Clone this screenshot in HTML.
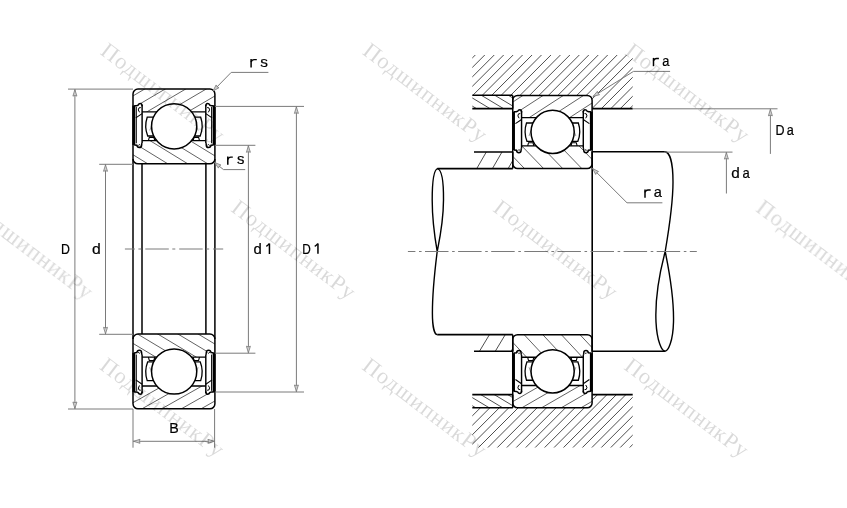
<!DOCTYPE html>
<html><head><meta charset="utf-8"><style>
html,body{margin:0;padding:0;background:#fff;}
svg{display:block;font-family:"Liberation Sans",sans-serif;}
</style></head><body>
<svg width="847" height="508" viewBox="0 0 847 508">
<defs><clipPath id="c1"><path d="M133 93.95A5 5 0 0 1 138 88.95L209.9 88.95A5 5 0 0 1 214.9 93.95L214.9 104.35L205.9 104.35L205.9 111.8L142 111.8L142 104.35L133 104.35ZM151.55 126.3a22.6 22.6 0 1 0 45.2 0a22.6 22.6 0 1 0 -45.2 0Z" clip-rule="evenodd"/></clipPath><clipPath id="c2"><path d="M142 140.7L205.9 140.7L205.9 146.55L214.9 146.55L214.9 158.85A5 5 0 0 1 209.9 163.85L138 163.85A5 5 0 0 1 133 158.85L133 146.55L142 146.55ZM151.55 126.3a22.6 22.6 0 1 0 45.2 0a22.6 22.6 0 1 0 -45.2 0Z" clip-rule="evenodd"/></clipPath><clipPath id="c3"><path d="M133 403.86A5 5 0 0 0 138 408.86L209.9 408.86A5 5 0 0 0 214.9 403.86L214.9 393.46L205.9 393.46L205.9 386.01L142 386.01L142 393.46L133 393.46ZM151.55 371.51a22.6 22.6 0 1 0 45.2 0a22.6 22.6 0 1 0 -45.2 0Z" clip-rule="evenodd"/></clipPath><clipPath id="c4"><path d="M142 357.11L205.9 357.11L205.9 351.26L214.9 351.26L214.9 338.96A5 5 0 0 0 209.9 333.96L138 333.96A5 5 0 0 0 133 338.96L133 351.26L142 351.26ZM151.55 371.51a22.6 22.6 0 1 0 45.2 0a22.6 22.6 0 1 0 -45.2 0Z" clip-rule="evenodd"/></clipPath><clipPath id="c5"><path d="M472.3 55L632.7 55L632.7 108.6L592.2 108.6L592.2 95.3L472.3 95.3Z" clip-rule="evenodd"/></clipPath><clipPath id="c6"><path d="M472.3 95.3L512.8 95.3L512.8 108.6L472.3 108.6Z" clip-rule="evenodd"/></clipPath><clipPath id="c7"><path d="M474 152L512.8 152L512.8 168.5L474 168.5Z" clip-rule="evenodd"/></clipPath><clipPath id="c8"><path d="M474 334.6L512.8 334.6L512.8 351.2L474 351.2Z" clip-rule="evenodd"/></clipPath><clipPath id="c9"><path d="M472.3 407.7L592.2 407.7L592.2 394.6L632.7 394.6L632.7 447.6L472.3 447.6Z" clip-rule="evenodd"/></clipPath><clipPath id="c10"><path d="M472.3 394.6L512.8 394.6L512.8 407.7L472.3 407.7Z" clip-rule="evenodd"/></clipPath><clipPath id="c11"><path d="M512.74 100.28A4.84 4.88 0 0 1 517.59 95.39L587.26 95.39A4.84 4.88 0 0 1 592.1 100.28L592.1 110.44L583.38 110.44L583.38 117.71L521.46 117.71L521.46 110.44L512.74 110.44ZM531.01 131.88a21.6 21.6 0 1 0 43.2 0a21.6 21.6 0 1 0 -43.2 0Z" clip-rule="evenodd"/></clipPath><clipPath id="c12"><path d="M521.46 145.95L583.38 145.95L583.38 151.67L592.1 151.67L592.1 163.68A4.84 4.88 0 0 1 587.26 168.57L517.59 168.57A4.84 4.88 0 0 1 512.74 163.68L512.74 151.67L521.46 151.67ZM531.01 131.88a21.6 21.6 0 1 0 43.2 0a21.6 21.6 0 1 0 -43.2 0Z" clip-rule="evenodd"/></clipPath><clipPath id="c13"><path d="M512.74 402.94A4.84 4.88 0 0 0 517.59 407.83L587.26 407.83A4.84 4.88 0 0 0 592.1 402.94L592.1 392.78L583.38 392.78L583.38 385.51L521.46 385.51L521.46 392.78L512.74 392.78ZM531.01 371.34a21.6 21.6 0 1 0 43.2 0a21.6 21.6 0 1 0 -43.2 0Z" clip-rule="evenodd"/></clipPath><clipPath id="c14"><path d="M521.46 357.27L583.38 357.27L583.38 351.55L592.1 351.55L592.1 339.54A4.84 4.88 0 0 0 587.26 334.65L517.59 334.65A4.84 4.88 0 0 0 512.74 339.54L512.74 351.55L521.46 351.55ZM531.01 371.34a21.6 21.6 0 1 0 43.2 0a21.6 21.6 0 1 0 -43.2 0Z" clip-rule="evenodd"/></clipPath><filter id="gs" x="0" y="0" width="847" height="508" filterUnits="userSpaceOnUse" color-interpolation-filters="sRGB"><feColorMatrix type="saturate" values="0"/></filter></defs>
<g filter="url(#gs)">
<rect width="847" height="508" fill="#fff"/>
<path clip-path="url(#c1)" d="M-11.11 156.64L290.12 -20.8M-5.83 165.61L295.4 -11.83M-0.55 174.57L300.68 -2.87M4.73 183.53L305.96 6.1M10.01 192.5L311.24 15.06M15.29 201.46L316.52 24.03M20.58 210.43L321.8 32.99M25.86 219.39L327.08 41.96M31.14 228.36L332.36 50.92M36.42 237.32L337.64 59.89M41.7 246.29L342.92 68.85M46.98 255.25L348.2 77.82M52.26 264.22L353.49 86.78M57.54 273.18L358.77 95.75" stroke="#3a3a3a" stroke-width="0.8" fill="none"/>
<path clip-path="url(#c2)" d="M61.17 -24.1L359.25 158.57M55.71 -15.19L353.79 167.48M50.25 -6.28L348.33 176.39M44.79 2.63L342.87 185.3M39.33 11.54L337.41 194.21M33.87 20.45L331.95 203.12M28.41 29.36L326.49 212.03M22.95 38.27L321.03 220.94M17.49 47.18L315.57 229.85M12.02 56.09L310.11 238.76M6.56 65L304.65 247.67M1.1 73.91L299.19 256.58M-4.36 82.82L293.73 265.49M-9.82 91.73L288.27 274.4M-15.28 100.64L282.81 283.31" stroke="#3a3a3a" stroke-width="0.8" fill="none"/>
<path d="M133 93.95A5 5 0 0 1 138 88.95L209.9 88.95A5 5 0 0 1 214.9 93.95L214.9 158.85A5 5 0 0 1 209.9 163.85L138 163.85A5 5 0 0 1 133 158.85Z" stroke="#000" stroke-width="1.5" fill="none"/>
<path d="M154 117.2L147.2 117.2Q144 126.55 147.7 136L154 136" stroke="#000" stroke-width="1.3" fill="none"/>
<path d="M148.4 140.7L149.3 137.35L153.8 137.35L154.8 140.7" stroke="#000" stroke-width="1.1" fill="none"/>
<path d="M149.8 130.45L152.8 122.25" stroke="#555" stroke-width="0.6" fill="none"/>
<path d="M193.9 117.2L200.7 117.2Q203.9 126.55 200.2 136L193.9 136" stroke="#000" stroke-width="1.3" fill="none"/>
<path d="M199.5 140.7L198.6 137.35L194.1 137.35L193.1 140.7" stroke="#000" stroke-width="1.1" fill="none"/>
<path d="M198.1 130.45L195.1 122.25" stroke="#555" stroke-width="0.6" fill="none"/>
<path d="M142 111.8L205.9 111.8M142 140.7L205.9 140.7" stroke="#000" stroke-width="1.3" fill="none"/>
<path d="M133.8 105.55L133.8 144.95" stroke="#000" stroke-width="2.9" fill="none"/>
<path d="M136.3 106.95L136.3 143.25" stroke="#000" stroke-width="1.0" fill="none"/>
<path d="M142.1 104.75L142.1 143.25" stroke="#000" stroke-width="1.45" fill="none"/>
<path d="M142.1 106.35Q142.1 103.55 140.3 103.55Q138.8 103.55 138.1 105.15L136.6 105.75L134.2 105.8" stroke="#000" stroke-width="1.5" fill="none"/>
<path d="M140.8 107.55Q138.4 106.95 138.3 109.95L139.6 112.35" stroke="#000" stroke-width="1.0" fill="none"/>
<path d="M142.1 113.6L135.8 117.9" stroke="#000" stroke-width="1.1" fill="none"/>
<path d="M134.2 144.95L136.8 145.15Q137.2 147.55 139.3 147.55Q141.5 147.55 141.6 145.35Q141.7 143.55 142.1 143.15" stroke="#000" stroke-width="1.5" fill="none"/>
<path d="M138 145.75Q139.2 143.55 140.4 145.15" stroke="#000" stroke-width="0.9" fill="none"/>
<path d="M214.1 105.55L214.1 144.95" stroke="#000" stroke-width="2.9" fill="none"/>
<path d="M211.6 106.95L211.6 143.25" stroke="#000" stroke-width="1.0" fill="none"/>
<path d="M205.8 104.75L205.8 143.25" stroke="#000" stroke-width="1.45" fill="none"/>
<path d="M205.8 106.35Q205.8 103.55 207.6 103.55Q209.1 103.55 209.8 105.15L211.3 105.75L213.7 105.8" stroke="#000" stroke-width="1.5" fill="none"/>
<path d="M207.1 107.55Q209.5 106.95 209.6 109.95L208.3 112.35" stroke="#000" stroke-width="1.0" fill="none"/>
<path d="M205.8 113.6L212.1 117.9" stroke="#000" stroke-width="1.1" fill="none"/>
<path d="M213.7 144.95L211.1 145.15Q210.7 147.55 208.6 147.55Q206.4 147.55 206.3 145.35Q206.2 143.55 205.8 143.15" stroke="#000" stroke-width="1.5" fill="none"/>
<path d="M209.9 145.75Q208.7 143.55 207.5 145.15" stroke="#000" stroke-width="0.9" fill="none"/>
<circle cx="174.15" cy="126.3" r="22.6" fill="#fff" stroke="#000" stroke-width="1.5"/>
<path clip-path="url(#c3)" d="M-12.91 396.12L291.37 223.97M-8.13 404.57L296.15 232.41M-3.35 413.01L300.92 240.86M1.42 421.45L305.7 249.3M6.2 429.89L310.48 257.74M10.98 438.34L315.25 266.19M15.76 446.78L320.03 274.63M20.53 455.22L324.81 283.07M25.31 463.67L329.59 291.52M30.09 472.11L334.36 299.96M34.86 480.55L339.14 308.4M39.64 489L343.92 316.84M44.42 497.44L348.69 325.29M49.19 505.88L353.47 333.73M53.97 514.33L358.25 342.17" stroke="#3a3a3a" stroke-width="0.8" fill="none"/>
<path clip-path="url(#c4)" d="M63.12 216.46L362.79 396.52M57.77 225.38L357.43 405.44M52.41 234.3L352.07 414.36M47.05 243.22L346.71 423.27M41.69 252.13L341.36 432.19M36.33 261.05L336 441.11M30.97 269.97L330.64 450.03M25.62 278.89L325.28 458.95M20.26 287.81L319.92 467.86M14.9 296.72L314.56 476.78M9.54 305.64L309.21 485.7M4.18 314.56L303.85 494.62M-1.18 323.48L298.49 503.53M-6.53 332.39L293.13 512.45M-11.89 341.31L287.77 521.37" stroke="#3a3a3a" stroke-width="0.8" fill="none"/>
<path d="M133 403.86A5 5 0 0 0 138 408.86L209.9 408.86A5 5 0 0 0 214.9 403.86L214.9 338.96A5 5 0 0 0 209.9 333.96L138 333.96A5 5 0 0 0 133 338.96Z" stroke="#000" stroke-width="1.5" fill="none"/>
<path d="M154 380.61L147.2 380.61Q144 371.26 147.7 361.81L154 361.81" stroke="#000" stroke-width="1.3" fill="none"/>
<path d="M148.4 357.11L149.3 360.46L153.8 360.46L154.8 357.11" stroke="#000" stroke-width="1.1" fill="none"/>
<path d="M149.8 367.36L152.8 375.56" stroke="#555" stroke-width="0.6" fill="none"/>
<path d="M193.9 380.61L200.7 380.61Q203.9 371.26 200.2 361.81L193.9 361.81" stroke="#000" stroke-width="1.3" fill="none"/>
<path d="M199.5 357.11L198.6 360.46L194.1 360.46L193.1 357.11" stroke="#000" stroke-width="1.1" fill="none"/>
<path d="M198.1 367.36L195.1 375.56" stroke="#555" stroke-width="0.6" fill="none"/>
<path d="M142 386.01L205.9 386.01M142 357.11L205.9 357.11" stroke="#000" stroke-width="1.3" fill="none"/>
<path d="M133.8 392.26L133.8 352.86" stroke="#000" stroke-width="2.9" fill="none"/>
<path d="M136.3 390.86L136.3 354.56" stroke="#000" stroke-width="1.0" fill="none"/>
<path d="M142.1 393.06L142.1 354.56" stroke="#000" stroke-width="1.45" fill="none"/>
<path d="M142.1 391.46Q142.1 394.26 140.3 394.26Q138.8 394.26 138.1 392.66L136.6 392.06L134.2 392.01" stroke="#000" stroke-width="1.5" fill="none"/>
<path d="M140.8 390.26Q138.4 390.86 138.3 387.86L139.6 385.46" stroke="#000" stroke-width="1.0" fill="none"/>
<path d="M142.1 384.21L135.8 379.91" stroke="#000" stroke-width="1.1" fill="none"/>
<path d="M134.2 352.86L136.8 352.66Q137.2 350.26 139.3 350.26Q141.5 350.26 141.6 352.46Q141.7 354.26 142.1 354.66" stroke="#000" stroke-width="1.5" fill="none"/>
<path d="M138 352.06Q139.2 354.26 140.4 352.66" stroke="#000" stroke-width="0.9" fill="none"/>
<path d="M214.1 392.26L214.1 352.86" stroke="#000" stroke-width="2.9" fill="none"/>
<path d="M211.6 390.86L211.6 354.56" stroke="#000" stroke-width="1.0" fill="none"/>
<path d="M205.8 393.06L205.8 354.56" stroke="#000" stroke-width="1.45" fill="none"/>
<path d="M205.8 391.46Q205.8 394.26 207.6 394.26Q209.1 394.26 209.8 392.66L211.3 392.06L213.7 392.01" stroke="#000" stroke-width="1.5" fill="none"/>
<path d="M207.1 390.26Q209.5 390.86 209.6 387.86L208.3 385.46" stroke="#000" stroke-width="1.0" fill="none"/>
<path d="M205.8 384.21L212.1 379.91" stroke="#000" stroke-width="1.1" fill="none"/>
<path d="M213.7 352.86L211.1 352.66Q210.7 350.26 208.6 350.26Q206.4 350.26 206.3 352.46Q206.2 354.26 205.8 354.66" stroke="#000" stroke-width="1.5" fill="none"/>
<path d="M209.9 352.06Q208.7 354.26 207.5 352.66" stroke="#000" stroke-width="0.9" fill="none"/>
<circle cx="174.15" cy="371.51" r="22.6" fill="#fff" stroke="#000" stroke-width="1.5"/>
<line x1="133" y1="159" x2="133" y2="339" stroke="#000" stroke-width="1.5"/>
<line x1="214.9" y1="159" x2="214.9" y2="339" stroke="#000" stroke-width="1.5"/>
<line x1="142" y1="163.86" x2="142" y2="333.94" stroke="#000" stroke-width="1.5"/>
<line x1="205.9" y1="163.86" x2="205.9" y2="333.94" stroke="#000" stroke-width="1.5"/>
<line x1="124.9" y1="249" x2="223.2" y2="249" stroke="#7a7a7a" stroke-width="1" stroke-dasharray="23.5 3.5 3 3.9" stroke-dashoffset="13.5"/>
<line x1="68" y1="89.1" x2="133" y2="89.1" stroke="#7a7a7a" stroke-width="1"/>
<line x1="68" y1="409" x2="133" y2="409" stroke="#7a7a7a" stroke-width="1"/>
<line x1="74.9" y1="89.1" x2="74.9" y2="409" stroke="#7a7a7a" stroke-width="1"/>
<path d="M76.9 96.1L74.9 89.6L72.9 96.1Q74.9 94.9 76.9 96.1Z" stroke="#7a7a7a" stroke-width="0.8" fill="#cfcfcf"/>
<path d="M72.9 402L74.9 408.5L76.9 402Q74.9 403.2 72.9 402Z" stroke="#7a7a7a" stroke-width="0.8" fill="#cfcfcf"/>
<line x1="99.2" y1="164.3" x2="133" y2="164.3" stroke="#7a7a7a" stroke-width="1"/>
<line x1="99.2" y1="334.3" x2="133" y2="334.3" stroke="#7a7a7a" stroke-width="1"/>
<line x1="105.5" y1="164.3" x2="105.5" y2="334.3" stroke="#7a7a7a" stroke-width="1"/>
<path d="M107.5 171.3L105.5 164.8L103.5 171.3Q105.5 170.1 107.5 171.3Z" stroke="#7a7a7a" stroke-width="0.8" fill="#cfcfcf"/>
<path d="M103.5 327.3L105.5 333.8L107.5 327.3Q105.5 328.5 103.5 327.3Z" stroke="#7a7a7a" stroke-width="0.8" fill="#cfcfcf"/>
<line x1="214.9" y1="145.3" x2="255.4" y2="145.3" stroke="#7a7a7a" stroke-width="1"/>
<line x1="214.9" y1="353.2" x2="255.4" y2="353.2" stroke="#7a7a7a" stroke-width="1"/>
<line x1="248.4" y1="145.3" x2="248.4" y2="353.2" stroke="#7a7a7a" stroke-width="1"/>
<path d="M250.4 152.3L248.4 145.8L246.4 152.3Q248.4 151.1 250.4 152.3Z" stroke="#7a7a7a" stroke-width="0.8" fill="#cfcfcf"/>
<path d="M246.4 346.2L248.4 352.7L250.4 346.2Q248.4 347.4 246.4 346.2Z" stroke="#7a7a7a" stroke-width="0.8" fill="#cfcfcf"/>
<line x1="214.9" y1="106.4" x2="304" y2="106.4" stroke="#7a7a7a" stroke-width="1"/>
<line x1="214.9" y1="392" x2="304" y2="392" stroke="#7a7a7a" stroke-width="1"/>
<line x1="296.4" y1="106.4" x2="296.4" y2="392" stroke="#7a7a7a" stroke-width="1"/>
<path d="M298.4 113.4L296.4 106.9L294.4 113.4Q296.4 112.2 298.4 113.4Z" stroke="#7a7a7a" stroke-width="0.8" fill="#cfcfcf"/>
<path d="M294.4 385L296.4 391.5L298.4 385Q296.4 386.2 294.4 385Z" stroke="#7a7a7a" stroke-width="0.8" fill="#cfcfcf"/>
<line x1="133" y1="409" x2="133" y2="447.7" stroke="#7a7a7a" stroke-width="1"/>
<line x1="214.6" y1="409" x2="214.6" y2="447.7" stroke="#7a7a7a" stroke-width="1"/>
<line x1="133" y1="441.3" x2="214.9" y2="441.3" stroke="#7a7a7a" stroke-width="1"/>
<path d="M140 439.3L133.5 441.3L140 443.3Q138.8 441.3 140 439.3Z" stroke="#7a7a7a" stroke-width="0.8" fill="#cfcfcf"/>
<path d="M207.9 443.3L214.4 441.3L207.9 439.3Q209.1 441.3 207.9 443.3Z" stroke="#7a7a7a" stroke-width="0.8" fill="#cfcfcf"/>
<path d="M213.0 91.0L231.2 72.4L268.4 72.4" stroke="#7a7a7a" stroke-width="1" fill="none"/>
<path d="M216.12 84.96L213 91L218.98 87.75Q216.71 87.21 216.12 84.96Z" stroke="#7a7a7a" stroke-width="0.8" fill="#cfcfcf"/>
<path d="M214.6 162.5L223.5 169.6L245.2 169.6" stroke="#7a7a7a" stroke-width="1" fill="none"/>
<path d="M220.93 164.99L214.6 162.5L218.43 168.12Q218.74 165.81 220.93 164.99Z" stroke="#7a7a7a" stroke-width="0.8" fill="#cfcfcf"/>
<text transform="translate(60.99 253.9) scale(0.865 1)" font-family="Liberation Sans" font-size="14.24" fill="#000" stroke="#000" stroke-width="0.22">D</text>
<text transform="translate(92.04 254.16) scale(1.115 1)" font-family="Liberation Sans" font-size="14.16" fill="#000" stroke="#000" stroke-width="0.19">d</text>
<text transform="translate(253.57 253.76) scale(1.052 1)" font-family="Liberation Sans" font-size="14.16" fill="#000" stroke="#000" stroke-width="0.19">d</text>
<path d="M269.45 243.5L269.45 254" stroke="#000" stroke-width="1.5" fill="none"/>
<path d="M266.3 246.4Q267.8 245.6 269.3 243.6" stroke="#000" stroke-width="1.4" fill="none"/>
<text transform="translate(302.13 253.7) scale(0.838 1)" font-family="Liberation Sans" font-size="14.10" fill="#000" stroke="#000" stroke-width="0.22">D</text>
<path d="M317.95 243.5L317.95 253.8" stroke="#000" stroke-width="1.5" fill="none"/>
<path d="M314.7 246.4Q316.3 245.6 317.8 243.6" stroke="#000" stroke-width="1.4" fill="none"/>
<text transform="translate(169.23 432.7) scale(0.963 1)" font-family="Liberation Sans" font-size="14.83" fill="#000" stroke="#000" stroke-width="0.20">B</text>
<path d="M251.1 59L251.1 67.5" stroke="#000" stroke-width="1.5" fill="none"/>
<path d="M251.1 62Q251.8 59.6 254.1 59.6L256.8 59.6" stroke="#000" stroke-width="1.45" fill="none"/>
<text transform="translate(260.27 67.25) scale(0.988 1)" font-family="Liberation Sans" font-size="15.56" fill="#000" stroke="#000" stroke-width="0.20">s</text>
<path d="M227.8 156.5L227.8 164.7" stroke="#000" stroke-width="1.5" fill="none"/>
<path d="M227.8 159.5Q228.5 157.1 230.8 157.1L232.8 157.1" stroke="#000" stroke-width="1.45" fill="none"/>
<text transform="translate(236.89 164.45) scale(0.993 1)" font-family="Liberation Sans" font-size="15.01" fill="#000" stroke="#000" stroke-width="0.20">s</text>
<path clip-path="url(#c5)" d="M318.67 183.26L655.26 -153.33M323.4 187.98L659.98 -148.6M328.13 192.71L664.71 -143.87M332.86 197.44L669.44 -139.14M337.59 202.17L674.17 -134.41M342.32 206.9L678.9 -129.68M347.04 211.63L683.63 -124.96M351.77 216.36L688.36 -120.23M356.5 221.08L693.08 -115.5M361.23 225.81L697.81 -110.77M365.96 230.54L702.54 -106.04M370.69 235.27L707.27 -101.31M375.42 240L712 -96.58M380.14 244.73L716.73 -91.86M384.87 249.45L721.45 -87.13M389.6 254.18L726.18 -82.4M394.33 258.91L730.91 -77.67M399.06 263.64L735.64 -72.94M403.79 268.37L740.37 -68.21M408.51 273.1L745.1 -63.49M413.24 277.83L749.83 -58.76M417.97 282.55L754.55 -54.03M422.7 287.28L759.28 -49.3M427.43 292.01L764.01 -44.57M432.16 296.74L768.74 -39.84M436.89 301.47L773.47 -35.11M441.61 306.2L778.2 -30.39M446.34 310.93L782.93 -25.66M451.07 315.65L787.65 -20.93" stroke="#3a3a3a" stroke-width="0.9" fill="none"/>
<path clip-path="url(#c6)" d="M444.25 40.56L569.4 115.76M440.67 46.52L565.82 121.72M437.09 52.48L562.24 127.67M433.51 58.44L558.66 133.63M429.93 64.39L555.08 139.59M426.35 70.35L551.5 145.55M422.77 76.31L547.92 151.5M419.19 82.27L544.34 157.46M415.61 88.22L540.76 163.42" stroke="#3a3a3a" stroke-width="0.9" fill="none"/>
<path clip-path="url(#c7)" d="M410.84 201.11L486.84 69.48M422.62 207.91L498.62 76.28M434.39 214.71L510.39 83.07M446.17 221.51L522.17 89.87M457.94 228.31L533.94 96.67M469.72 235.1L545.72 103.47M481.49 241.9L557.49 110.27M493.27 248.7L569.27 117.07" stroke="#3a3a3a" stroke-width="0.9" fill="none"/>
<path clip-path="url(#c8)" d="M412.08 384.51L491.4 252.51M423.69 391.49L503.01 259.48M435.3 398.46L514.62 266.46M446.91 405.44L526.23 273.43M458.52 412.41L537.84 280.41M470.13 419.39L549.44 287.38M481.74 426.36L561.05 294.36M493.35 433.34L572.66 301.34" stroke="#3a3a3a" stroke-width="0.9" fill="none"/>
<path clip-path="url(#c9)" d="M325.74 524.66L656.66 193.74M330.46 529.39L661.39 198.46M335.19 534.11L666.11 203.19M339.91 538.84L670.84 207.91M344.64 543.56L675.56 212.64M349.36 548.29L680.29 217.36M354.09 553.01L685.01 222.09M358.81 557.74L689.74 226.81M363.54 562.46L694.46 231.54M368.26 567.19L699.19 236.26M372.99 571.91L703.91 240.99M377.71 576.64L708.64 245.71M382.44 581.36L713.36 250.44M387.16 586.09L718.09 255.16M391.89 590.81L722.81 259.89M396.61 595.54L727.54 264.61M401.34 600.26L732.26 269.34M406.06 604.99L736.99 274.06M410.79 609.71L741.71 278.79M415.51 614.44L746.44 283.51M420.24 619.16L751.16 288.24M424.96 623.89L755.89 292.96M429.69 628.61L760.61 297.69M434.41 633.34L765.34 302.41M439.14 638.06L770.06 307.14M443.86 642.79L774.79 311.86M448.59 647.51L779.51 316.59" stroke="#3a3a3a" stroke-width="0.9" fill="none"/>
<path clip-path="url(#c10)" d="M443.96 340.05L569.1 415.25M440.38 346.01L565.52 421.2M436.8 351.97L561.95 427.16M433.22 357.92L558.37 433.12M429.64 363.88L554.79 439.08M426.06 369.84L551.21 445.03M422.48 375.79L547.63 450.99M418.9 381.75L544.05 456.95M415.32 387.71L540.47 462.9" stroke="#3a3a3a" stroke-width="0.9" fill="none"/>
<line x1="472.3" y1="95.3" x2="512.8" y2="95.3" stroke="#000" stroke-width="1.6"/>
<line x1="472.3" y1="108.6" x2="512.8" y2="108.6" stroke="#000" stroke-width="1.6"/>
<line x1="592.2" y1="108.6" x2="632.7" y2="108.6" stroke="#000" stroke-width="1.6"/>
<line x1="474" y1="152" x2="512.8" y2="152" stroke="#000" stroke-width="1.6"/>
<line x1="474" y1="351.2" x2="512.8" y2="351.2" stroke="#000" stroke-width="1.6"/>
<line x1="472.3" y1="394.6" x2="512.8" y2="394.6" stroke="#000" stroke-width="1.6"/>
<line x1="592.2" y1="394.6" x2="632.7" y2="394.6" stroke="#000" stroke-width="1.6"/>
<line x1="472.3" y1="407.7" x2="512.8" y2="407.7" stroke="#000" stroke-width="1.6"/>
<line x1="512.74" y1="95.39" x2="512.74" y2="108.6" stroke="#000" stroke-width="1.5"/>
<line x1="512.74" y1="394.6" x2="512.74" y2="407.83" stroke="#000" stroke-width="1.5"/>
<line x1="512.74" y1="152" x2="512.74" y2="168.57" stroke="#000" stroke-width="1.5"/>
<line x1="512.74" y1="334.74" x2="512.74" y2="351.2" stroke="#000" stroke-width="1.5"/>
<path clip-path="url(#c11)" d="M371.98 167.24L658.03 -18.52M377.97 176.47L664.02 -9.29M383.96 185.7L670.01 -0.07M389.95 194.92L676.01 9.16M395.95 204.15L682 18.39M401.94 213.38L687.99 27.61M407.93 222.61L693.98 36.84M413.92 231.83L699.97 46.07M419.91 241.06L705.97 55.29M425.91 250.29L711.96 64.52M431.9 259.51L717.95 73.75M437.89 268.74L723.94 82.98M443.88 277.97L729.93 92.2M449.87 287.19L735.93 101.43" stroke="#3a3a3a" stroke-width="0.8" fill="none"/>
<path clip-path="url(#c12)" d="M490.19 -45.01L727.13 200.34M480.31 -35.46L717.24 209.89M470.43 -25.92L707.36 219.43M460.54 -16.37L697.48 228.98M450.66 -6.83L687.59 238.52M440.78 2.71L677.71 248.06M430.9 12.26L667.83 257.61M421.01 21.8L657.94 267.15M411.13 31.35L648.06 276.7M401.25 40.89L638.18 286.24M391.36 50.43L628.29 295.79M381.48 59.98L618.41 305.33" stroke="#3a3a3a" stroke-width="0.8" fill="none"/>
<path d="M512.74 100.28A4.84 4.88 0 0 1 517.59 95.39L587.26 95.39A4.84 4.88 0 0 1 592.1 100.28L592.1 163.68A4.84 4.88 0 0 1 587.26 168.57L517.59 168.57A4.84 4.88 0 0 1 512.74 163.68Z" stroke="#000" stroke-width="1.5" fill="none"/>
<path d="M533.09 122.99L526.5 122.99Q523.4 132.13 526.98 141.36L533.09 141.36" stroke="#000" stroke-width="1.3" fill="none"/>
<path d="M527.66 145.95L528.53 142.68L532.9 142.68L533.86 145.95" stroke="#000" stroke-width="1.1" fill="none"/>
<path d="M529.02 135.94L531.93 127.92" stroke="#555" stroke-width="0.6" fill="none"/>
<path d="M571.75 122.99L578.34 122.99Q581.44 132.13 577.86 141.36L571.75 141.36" stroke="#000" stroke-width="1.3" fill="none"/>
<path d="M577.18 145.95L576.31 142.68L571.95 142.68L570.98 145.95" stroke="#000" stroke-width="1.1" fill="none"/>
<path d="M575.82 135.94L572.91 127.92" stroke="#555" stroke-width="0.6" fill="none"/>
<path d="M521.46 117.71L583.38 117.71M521.46 145.95L583.38 145.95" stroke="#000" stroke-width="1.3" fill="none"/>
<path d="M513.52 111.61L513.52 150.1" stroke="#000" stroke-width="2.9" fill="none"/>
<path d="M521.56 110.83L521.56 148.44" stroke="#000" stroke-width="1.45" fill="none"/>
<path d="M521.56 112.39Q521.56 109.65 519.81 109.65Q518.36 109.65 517.68 111.22L516.23 111.8L513.9 111.85" stroke="#000" stroke-width="1.5" fill="none"/>
<path d="M520.3 113.56Q517.97 112.98 517.88 115.91L519.14 118.25" stroke="#000" stroke-width="1.0" fill="none"/>
<path d="M521.56 119.47L515.45 123.67" stroke="#000" stroke-width="1.1" fill="none"/>
<path d="M513.9 150.1L516.42 150.3Q516.81 152.64 518.84 152.64Q520.98 152.64 521.07 150.49Q521.17 148.73 521.56 148.34" stroke="#000" stroke-width="1.5" fill="none"/>
<path d="M517.59 150.88Q518.75 148.73 519.91 150.3" stroke="#000" stroke-width="0.9" fill="none"/>
<path d="M591.33 111.61L591.33 150.1" stroke="#000" stroke-width="2.9" fill="none"/>
<path d="M583.28 110.83L583.28 148.44" stroke="#000" stroke-width="1.45" fill="none"/>
<path d="M583.28 112.39Q583.28 109.65 585.03 109.65Q586.48 109.65 587.16 111.22L588.61 111.8L590.94 111.85" stroke="#000" stroke-width="1.5" fill="none"/>
<path d="M584.54 113.56Q586.87 112.98 586.97 115.91L585.71 118.25" stroke="#000" stroke-width="1.0" fill="none"/>
<path d="M583.28 119.47L589.39 123.67" stroke="#000" stroke-width="1.1" fill="none"/>
<path d="M590.94 150.1L588.42 150.3Q588.03 152.64 586 152.64Q583.86 152.64 583.77 150.49Q583.67 148.73 583.28 148.34" stroke="#000" stroke-width="1.5" fill="none"/>
<path d="M587.26 150.88Q586.09 148.73 584.93 150.3" stroke="#000" stroke-width="0.9" fill="none"/>
<circle cx="552.61" cy="131.88" r="21.6" fill="#fff" stroke="#000" stroke-width="1.5"/>
<path clip-path="url(#c13)" d="M368.59 393.91L663.97 223.37M373.51 402.44L668.89 231.9M378.44 410.97L673.82 240.43M383.36 419.5L678.74 248.96M388.29 428.03L683.67 257.49M393.21 436.56L688.59 266.02M398.14 445.09L693.52 274.55M403.06 453.62L698.44 283.08M407.99 462.15L703.37 291.61M412.91 470.68L708.29 300.14M417.84 479.21L713.22 308.67M422.76 487.74L718.14 317.2M427.69 496.27L723.07 325.73M432.61 504.8L727.99 334.26M437.54 513.33L732.92 342.79" stroke="#3a3a3a" stroke-width="0.8" fill="none"/>
<path clip-path="url(#c14)" d="M488.99 197.21L721.61 446.65M479.04 206.48L711.66 455.93M469.1 215.76L701.71 465.21M459.15 225.04L691.76 474.49M449.2 234.32L681.81 483.76M439.25 243.59L671.86 493.04M429.3 252.87L661.91 502.32M419.35 262.15L651.97 511.6M409.4 271.43L642.02 520.87M399.45 280.7L632.07 530.15M389.51 289.98L622.12 539.43M379.56 299.26L612.17 548.71" stroke="#3a3a3a" stroke-width="0.8" fill="none"/>
<path d="M512.74 402.94A4.84 4.88 0 0 0 517.59 407.83L587.26 407.83A4.84 4.88 0 0 0 592.1 402.94L592.1 339.54A4.84 4.88 0 0 0 587.26 334.65L517.59 334.65A4.84 4.88 0 0 0 512.74 339.54Z" stroke="#000" stroke-width="1.5" fill="none"/>
<path d="M533.09 380.23L526.5 380.23Q523.4 371.09 526.98 361.86L533.09 361.86" stroke="#000" stroke-width="1.3" fill="none"/>
<path d="M527.66 357.27L528.53 360.54L532.9 360.54L533.86 357.27" stroke="#000" stroke-width="1.1" fill="none"/>
<path d="M529.02 367.28L531.93 375.3" stroke="#555" stroke-width="0.6" fill="none"/>
<path d="M571.75 380.23L578.34 380.23Q581.44 371.09 577.86 361.86L571.75 361.86" stroke="#000" stroke-width="1.3" fill="none"/>
<path d="M577.18 357.27L576.31 360.54L571.95 360.54L570.98 357.27" stroke="#000" stroke-width="1.1" fill="none"/>
<path d="M575.82 367.28L572.91 375.3" stroke="#555" stroke-width="0.6" fill="none"/>
<path d="M521.46 385.51L583.38 385.51M521.46 357.27L583.38 357.27" stroke="#000" stroke-width="1.3" fill="none"/>
<path d="M513.52 391.61L513.52 353.12" stroke="#000" stroke-width="2.9" fill="none"/>
<path d="M521.56 392.39L521.56 354.78" stroke="#000" stroke-width="1.45" fill="none"/>
<path d="M521.56 390.83Q521.56 393.57 519.81 393.57Q518.36 393.57 517.68 392L516.23 391.42L513.9 391.37" stroke="#000" stroke-width="1.5" fill="none"/>
<path d="M520.3 389.66Q517.97 390.24 517.88 387.31L519.14 384.97" stroke="#000" stroke-width="1.0" fill="none"/>
<path d="M521.56 383.75L515.45 379.55" stroke="#000" stroke-width="1.1" fill="none"/>
<path d="M513.9 353.12L516.42 352.92Q516.81 350.58 518.84 350.58Q520.98 350.58 521.07 352.73Q521.17 354.49 521.56 354.88" stroke="#000" stroke-width="1.5" fill="none"/>
<path d="M517.59 352.34Q518.75 354.49 519.91 352.92" stroke="#000" stroke-width="0.9" fill="none"/>
<path d="M591.33 391.61L591.33 353.12" stroke="#000" stroke-width="2.9" fill="none"/>
<path d="M583.28 392.39L583.28 354.78" stroke="#000" stroke-width="1.45" fill="none"/>
<path d="M583.28 390.83Q583.28 393.57 585.03 393.57Q586.48 393.57 587.16 392L588.61 391.42L590.94 391.37" stroke="#000" stroke-width="1.5" fill="none"/>
<path d="M584.54 389.66Q586.87 390.24 586.97 387.31L585.71 384.97" stroke="#000" stroke-width="1.0" fill="none"/>
<path d="M583.28 383.75L589.39 379.55" stroke="#000" stroke-width="1.1" fill="none"/>
<path d="M590.94 353.12L588.42 352.92Q588.03 350.58 586 350.58Q583.86 350.58 583.77 352.73Q583.67 354.49 583.28 354.88" stroke="#000" stroke-width="1.5" fill="none"/>
<path d="M587.26 352.34Q586.09 354.49 584.93 352.92" stroke="#000" stroke-width="0.9" fill="none"/>
<circle cx="552.61" cy="371.34" r="21.6" fill="#fff" stroke="#000" stroke-width="1.5"/>
<path d="M437.5 168.6C442.8 170 443.6 188 443.5 200C443.4 222 439.5 240 437.2 251.5C435.2 240 432.2 222 432.2 200C432.2 186 433.2 170 437.5 168.6Z" stroke="#000" stroke-width="1.4" fill="none"/>
<path d="M437.2 251.5C435.5 265 432.4 295 432.4 313C432.4 326 434.5 334.6 437.2 334.6" stroke="#000" stroke-width="1.4" fill="none"/>
<line x1="437.5" y1="168.6" x2="512.8" y2="168.6" stroke="#000" stroke-width="1.6"/>
<line x1="437.2" y1="334.6" x2="512.8" y2="334.6" stroke="#000" stroke-width="1.6"/>
<line x1="592.2" y1="151.8" x2="664.8" y2="151.8" stroke="#000" stroke-width="1.6"/>
<line x1="592.2" y1="351.2" x2="665" y2="351.2" stroke="#000" stroke-width="1.6"/>
<line x1="592.2" y1="151.8" x2="592.2" y2="351.2" stroke="#000" stroke-width="1.6"/>
<path d="M664.8 151.8C669 152 673 160 673.0 182C673 205 668 235 665.2 251.5" stroke="#000" stroke-width="1.4" fill="none"/>
<path d="M665.2 251.5C659 275 655 300 656 322C657 342 662 351.2 665.0 351.2C668 351.2 673 342 673.5 322C674 300 670 275 665.2 251.5Z" stroke="#000" stroke-width="1.4" fill="none"/>
<line x1="407.9" y1="251.5" x2="696.8" y2="251.5" stroke="#7a7a7a" stroke-width="1" stroke-dasharray="23.5 3.6 2.6 3.4" stroke-dashoffset="16"/>
<line x1="632.7" y1="108.8" x2="777.5" y2="108.8" stroke="#7a7a7a" stroke-width="1"/>
<line x1="664.8" y1="152.1" x2="732.5" y2="152.1" stroke="#7a7a7a" stroke-width="1"/>
<line x1="770.4" y1="108.8" x2="770.4" y2="153.9" stroke="#7a7a7a" stroke-width="1"/>
<path d="M772.4 115.8L770.4 109.3L768.4 115.8Q770.4 114.6 772.4 115.8Z" stroke="#7a7a7a" stroke-width="0.8" fill="#cfcfcf"/>
<line x1="726.4" y1="152.1" x2="726.4" y2="193.5" stroke="#7a7a7a" stroke-width="1"/>
<path d="M728.4 159.1L726.4 152.6L724.4 159.1Q726.4 157.9 728.4 159.1Z" stroke="#7a7a7a" stroke-width="0.8" fill="#cfcfcf"/>
<text transform="translate(775.58 135) scale(0.877 1)" font-family="Liberation Sans" font-size="14.24" fill="#000" stroke="#000" stroke-width="0.21">D</text>
<text transform="translate(786.86 135.36) scale(0.856 1)" font-family="Liberation Sans" font-size="14.79" fill="#000" stroke="#000" stroke-width="0.22">a</text>
<text transform="translate(731.36 178.46) scale(1.083 1)" font-family="Liberation Sans" font-size="14.16" fill="#000" stroke="#000" stroke-width="0.19">d</text>
<text transform="translate(742.55 178.45) scale(0.851 1)" font-family="Liberation Sans" font-size="15.33" fill="#000" stroke="#000" stroke-width="0.22">a</text>
<path d="M593.0 96.5L633.5 71.4L670.1 71.4" stroke="#7a7a7a" stroke-width="1" fill="none"/>
<path d="M597.39 91.31L593 96.5L599.55 94.68Q597.46 93.64 597.39 91.31Z" stroke="#7a7a7a" stroke-width="0.8" fill="#cfcfcf"/>
<path d="M592.5 168.4L627.0 202.8L662.4 202.8" stroke="#7a7a7a" stroke-width="1" fill="none"/>
<path d="M598.52 171.57L592.5 168.4L595.69 174.41Q596.25 172.14 598.52 171.57Z" stroke="#7a7a7a" stroke-width="0.8" fill="#cfcfcf"/>
<path d="M653.5 57.9L653.5 66.2" stroke="#000" stroke-width="1.5" fill="none"/>
<path d="M653.5 60.9Q654.2 58.5 656.5 58.5L658.9 58.5" stroke="#000" stroke-width="1.45" fill="none"/>
<text transform="translate(662.25 65.95) scale(0.848 1)" font-family="Liberation Sans" font-size="15.15" fill="#000" stroke="#000" stroke-width="0.22">a</text>
<path d="M645 189.4L645 197.7" stroke="#000" stroke-width="1.5" fill="none"/>
<path d="M645 192.4Q645.7 190 648 190L650.7 190" stroke="#000" stroke-width="1.45" fill="none"/>
<text transform="translate(653.68 197.45) scale(0.964 1)" font-family="Liberation Sans" font-size="15.15" fill="#000" stroke="#000" stroke-width="0.20">a</text>
<text x="0" y="0" transform="translate(99.2 53.6) rotate(37.15)" font-family="Liberation Serif" font-size="22.5" letter-spacing="1.0" fill="#000" fill-opacity="0.15">ПодшипникРу</text>
<text x="0" y="0" transform="translate(361.5 53.4) rotate(37.15)" font-family="Liberation Serif" font-size="22.5" letter-spacing="1.0" fill="#000" fill-opacity="0.15">ПодшипникРу</text>
<text x="0" y="0" transform="translate(623.9 53.7) rotate(37.15)" font-family="Liberation Serif" font-size="22.5" letter-spacing="1.0" fill="#000" fill-opacity="0.15">ПодшипникРу</text>
<text x="0" y="0" transform="translate(-32.8 210.7) rotate(37.15)" font-family="Liberation Serif" font-size="22.5" letter-spacing="1.0" fill="#000" fill-opacity="0.15">ПодшипникРу</text>
<text x="0" y="0" transform="translate(230.1 210.5) rotate(37.15)" font-family="Liberation Serif" font-size="22.5" letter-spacing="1.0" fill="#000" fill-opacity="0.15">ПодшипникРу</text>
<text x="0" y="0" transform="translate(492 210.4) rotate(37.15)" font-family="Liberation Serif" font-size="22.5" letter-spacing="1.0" fill="#000" fill-opacity="0.15">ПодшипникРу</text>
<text x="0" y="0" transform="translate(754.7 210.6) rotate(37.15)" font-family="Liberation Serif" font-size="22.5" letter-spacing="1.0" fill="#000" fill-opacity="0.15">ПодшипникРу</text>
<text x="0" y="0" transform="translate(98.6 368.2) rotate(37.15)" font-family="Liberation Serif" font-size="22.5" letter-spacing="1.0" fill="#000" fill-opacity="0.15">ПодшипникРу</text>
<text x="0" y="0" transform="translate(361 368.4) rotate(37.15)" font-family="Liberation Serif" font-size="22.5" letter-spacing="1.0" fill="#000" fill-opacity="0.15">ПодшипникРу</text>
<text x="0" y="0" transform="translate(623 368.6) rotate(37.15)" font-family="Liberation Serif" font-size="22.5" letter-spacing="1.0" fill="#000" fill-opacity="0.15">ПодшипникРу</text>
</g>
</svg></body></html>
